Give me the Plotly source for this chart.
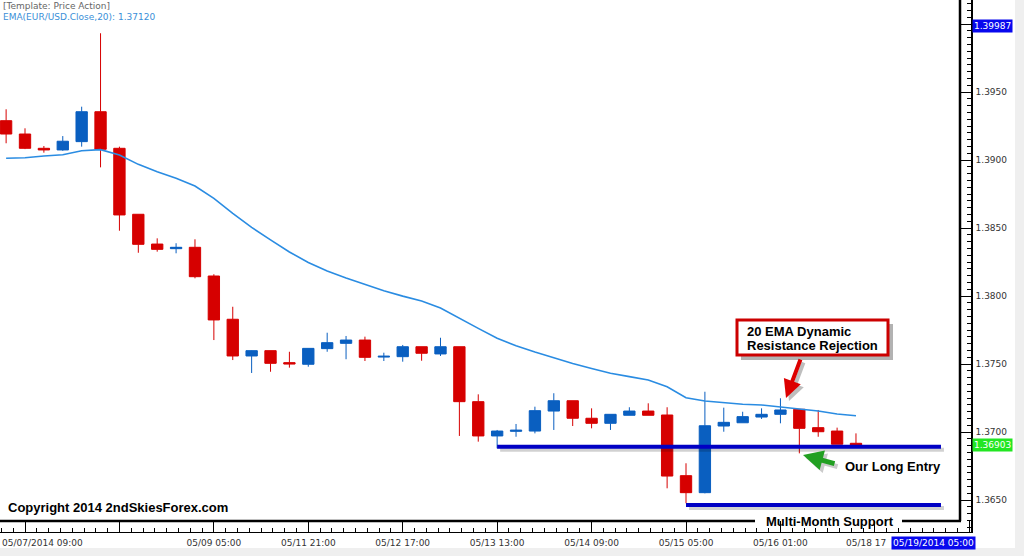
import plotly.graph_objects as go

# ---------------- data ----------------
idx = list(range(46))  # 4-hour candles

opens = [1.39289, 1.39191, 1.39086, 1.39074, 1.39135, 1.39355, 1.39086, 1.38601, 1.38382, 1.38348,
         1.38358, 1.38147, 1.37829, 1.37559, 1.37598, 1.37510, 1.37498, 1.37613, 1.37652, 1.37676,
         1.37551, 1.37554, 1.37627, 1.37574, 1.37627, 1.37223, 1.36971, 1.37005, 1.37007, 1.37154,
         1.37230, 1.37101, 1.37064, 1.37123, 1.37154, 1.37125, 1.36679, 1.36554, 1.37044, 1.37068,
         1.37110, 1.37130, 1.37167, 1.37032, 1.37007, 1.36917]
highs = [1.39373, 1.39233, 1.39103, 1.39176, 1.39392, 1.39932, 1.39098, 1.38601, 1.38424, 1.38388,
         1.38417, 1.38160, 1.37921, 1.37600, 1.37598, 1.37590, 1.37615, 1.37730, 1.37706, 1.37701,
         1.37583, 1.37640, 1.37627, 1.37693, 1.37627, 1.37277, 1.37015, 1.37059, 1.37186, 1.37285,
         1.37230, 1.37174, 1.37130, 1.37182, 1.37211, 1.37182, 1.36770, 1.37296, 1.37179, 1.37149,
         1.37174, 1.37248, 1.37167, 1.37162, 1.37032, 1.36990]
lows = [1.39123, 1.39080, 1.39054, 1.39068, 1.39098, 1.38946, 1.38480, 1.38318, 1.38326, 1.38314,
        1.38130, 1.37676, 1.37529, 1.37434, 1.37443, 1.37473, 1.37480, 1.37590, 1.37535, 1.37522,
        1.37522, 1.37517, 1.37524, 1.37559, 1.36971, 1.36929, 1.36880, 1.36965, 1.36990, 1.37015,
        1.37044, 1.37027, 1.37015, 1.37123, 1.37123, 1.36586, 1.36476, 1.36549, 1.37002, 1.37068,
        1.37096, 1.37064, 1.36843, 1.36965, 1.36910, 1.36903]
closes = [1.39191, 1.39086, 1.39074, 1.39138, 1.39355, 1.39079, 1.38596, 1.38380, 1.38343, 1.38358,
          1.38142, 1.37824, 1.37559, 1.37598, 1.37505, 1.37500, 1.37615, 1.37657, 1.37676, 1.37549,
          1.37557, 1.37627, 1.37579, 1.37627, 1.37223, 1.36971, 1.37007, 1.37013, 1.37157, 1.37230,
          1.37101, 1.37064, 1.37130, 1.37154, 1.37123, 1.36676, 1.36554, 1.37046, 1.37071, 1.37113,
          1.37130, 1.37162, 1.37027, 1.37002, 1.36910, 1.36903]
ema20 = [1.39013, 1.39017, 1.39029, 1.39039, 1.39068, 1.39076, 1.39037, 1.38968, 1.38914, 1.38865,
         1.38809, 1.38718, 1.38608, 1.38504, 1.38413, 1.38324, 1.38246, 1.38184, 1.38132, 1.38084,
         1.38039, 1.37999, 1.37963, 1.37912, 1.37840, 1.37762, 1.37689, 1.37634, 1.37588, 1.37544,
         1.37504, 1.37467, 1.37432, 1.37407, 1.37382, 1.37333, 1.37252, 1.37228, 1.37215, 1.37204,
         1.37199, 1.37186, 1.37169, 1.37154, 1.37132, 1.37120]

x_tick_idx = [1, 6, 11, 16, 21, 26, 31, 36, 41, 46, 51]
x_tick_text = ["", "", "05/09 05:00", "05/11 21:00", "05/12 17:00", "05/13 13:00",
               "05/14 09:00", "05/15 05:00", "05/16 01:00", "", ""]
first_date_label = "05/07/2014 09:00"
partial_date_label = "05/18 17"          # visible part, rest hidden by the current-date box
current_date_label = "05/19/2014 05:00"
y_tick_vals = [1.365, 1.370, 1.375, 1.380, 1.385, 1.390, 1.395, 1.400]
y_tick_text = ["1.3650", "1.3700", "1.3750", "1.3800", "1.3850", "1.3900", "1.3950", ""]
range_high_label = 1.39987

support_entry = 1.36892       # "Our Long Entry" level
support_entry_start = 26
support_multi = 1.36463       # multi-month support
support_multi_start = 36
support_end = 49.5

# ---------------- styling ----------------
RED = "#d60000"
BLUE = "#0a5fc0"
EMA_BLUE = "#2a8ce2"
LINE_BLUE = "#0000c4"
X_RANGE = [-0.3237, 51.09]
Y_RANGE = [1.362647, 1.401765]
PW, PH = 971.0, 532.0          # plot area in px
PPP = (Y_RANGE[1] - Y_RANGE[0]) / PH   # price per pixel
CPP = (X_RANGE[1] - X_RANGE[0]) / PW   # candles per pixel
AX_FONT = dict(family="DejaVu Sans", size=9, color="#333333")


def pxx(px):
    return px / PW


def pxy(py):
    return 1 - py / PH


fig = go.Figure()

fig.add_trace(go.Candlestick(
    x=idx, open=opens, high=highs, low=lows, close=closes,
    increasing=dict(line=dict(color=BLUE, width=1), fillcolor=BLUE),
    decreasing=dict(line=dict(color=RED, width=1), fillcolor=RED),
    whiskerwidth=0, showlegend=False, hoverinfo="skip",
))
fig.add_trace(go.Scatter(
    x=idx, y=ema20, mode="lines", line=dict(color=EMA_BLUE, width=1.6),
    showlegend=False, hoverinfo="skip",
))

shapes = []
# light grey window borders
shapes.append(dict(type="rect", xref="paper", yref="paper", x0=pxx(1015), x1=pxx(1030),
                   y0=pxy(560), y1=pxy(-5), fillcolor="#efefef", line=dict(width=0), layer="below"))
shapes.append(dict(type="rect", xref="paper", yref="paper", x0=pxx(-5), x1=pxx(1030),
                   y0=pxy(560), y1=pxy(548), fillcolor="#efefef", line=dict(width=0), layer="below"))
# chart frame (right + bottom), bottom interrupted by the label
shapes.append(dict(type="line", xref="paper", yref="paper", x0=pxx(960), x1=pxx(960),
                   y0=pxy(0), y1=pxy(521), line=dict(color="black", width=2.5)))
shapes.append(dict(type="line", xref="paper", yref="paper", x0=pxx(0), x1=pxx(755),
                   y0=pxy(521), y1=pxy(521), line=dict(color="black", width=2.5)))
shapes.append(dict(type="line", xref="paper", yref="paper", x0=pxx(902), x1=pxx(961),
                   y0=pxy(521), y1=pxy(521), line=dict(color="black", width=2.5)))
# support lines with soft shadows
for lvl, start in [(support_entry, support_entry_start), (support_multi, support_multi_start)]:
    shapes.append(dict(type="line", xref="x", yref="y", x0=start + 3 * CPP, x1=support_end + 3 * CPP,
                       y0=lvl - 3 * PPP, y1=lvl - 3 * PPP,
                       line=dict(color="rgba(0,0,0,0.18)", width=4)))
    shapes.append(dict(type="line", xref="x", yref="y", x0=start, x1=support_end,
                       y0=lvl, y1=lvl, line=dict(color=LINE_BLUE, width=4)))
# callout box
shapes.append(dict(type="rect", xref="paper", yref="paper", x0=pxx(741), x1=pxx(893),
                   y0=pxy(360), y1=pxy(324), fillcolor="rgba(0,0,0,0.3)", line=dict(width=0)))
shapes.append(dict(type="rect", xref="paper", yref="paper", x0=pxx(737), x1=pxx(888),
                   y0=pxy(355), y1=pxy(320), fillcolor="white", line=dict(color="#cc0000", width=3)))

ann = []
ann.append(dict(xref="paper", yref="paper", x=pxx(1), y=pxy(6), xanchor="left", yanchor="middle",
                text="[Template: Price Action]", showarrow=False,
                font=dict(family="DejaVu Sans", size=9, color="#666666")))
ann.append(dict(xref="paper", yref="paper", x=pxx(1), y=pxy(17), xanchor="left", yanchor="middle",
                text="EMA(EUR/USD.Close,20): %.5f" % ema20[-1], showarrow=False,
                font=dict(family="DejaVu Sans", size=9, color="#3a8fd8")))
BOLD = dict(family="Liberation Sans", size=13, color="black")
ann.append(dict(xref="paper", yref="paper", x=pxx(6), y=pxy(507), xanchor="left", yanchor="middle",
                text="<b>Copyright 2014 2ndSkiesForex.com</b>", showarrow=False, font=BOLD))
ann.append(dict(xref="paper", yref="paper", x=pxx(843), y=pxy(466), xanchor="left", yanchor="middle",
                text="<b>Our Long Entry</b>", showarrow=False, font=BOLD))
ann.append(dict(xref="paper", yref="paper", x=pxx(764), y=pxy(521), xanchor="left", yanchor="middle",
                text="<b>Multi-Month Support</b>", showarrow=False, font=BOLD))
ann.append(dict(xref="paper", yref="paper", x=pxx(745), y=pxy(331), xanchor="left", yanchor="middle",
                text="<b>20 EMA Dynamic</b>", showarrow=False, font=BOLD))
ann.append(dict(xref="paper", yref="paper", x=pxx(745), y=pxy(345), xanchor="left", yanchor="middle",
                text="<b>Resistance Rejection</b>", showarrow=False, font=BOLD))
# arrows (shadow + arrow)
ann.append(dict(xref="paper", yref="paper", x=pxx(789), y=pxy(401), ax=15, ay=-40, text="",
                showarrow=True, arrowhead=2, arrowsize=0.9, arrowwidth=4,
                arrowcolor="rgba(0,0,0,0.25)", standoff=0))
ann.append(dict(xref="paper", yref="paper", x=pxx(786), y=pxy(398), ax=15, ay=-40, text="",
                showarrow=True, arrowhead=2, arrowsize=0.9, arrowwidth=4,
                arrowcolor="#dd0000", standoff=0))
ann.append(dict(xref="paper", yref="paper", x=pxx(806), y=pxy(458), ax=33, ay=9, text="",
                showarrow=True, arrowhead=2, arrowsize=0.8, arrowwidth=5,
                arrowcolor="rgba(0,0,0,0.2)", standoff=0))
ann.append(dict(xref="paper", yref="paper", x=pxx(803), y=pxy(455), ax=33, ay=9, text="",
                showarrow=True, arrowhead=2, arrowsize=0.8, arrowwidth=5,
                arrowcolor="#22a022", standoff=0))
# axis-side price / date boxes
ann.append(dict(xref="paper", yref="y", x=pxx(972), y=range_high_label, xanchor="left",
                yanchor="middle", text="%.5f" % range_high_label, showarrow=False,
                bgcolor="#0808ee", borderpad=1,
                font=dict(family="DejaVu Sans", size=9, color="white")))
ann.append(dict(xref="paper", yref="y", x=pxx(972), y=closes[-1], xanchor="left",
                yanchor="middle", text="%.5f" % closes[-1], showarrow=False,
                bgcolor="#22e622", borderpad=1,
                font=dict(family="DejaVu Sans", size=9, color="white")))
ann.append(dict(xref="paper", yref="paper", x=pxx(0), y=pxy(543), xanchor="left",
                yanchor="middle", text=first_date_label, showarrow=False, font=AX_FONT))
ann.append(dict(xref="paper", yref="paper", x=pxx(888), y=pxy(543), xanchor="right",
                yanchor="middle", text=partial_date_label, showarrow=False, font=AX_FONT))
ann.append(dict(xref="paper", yref="paper", x=pxx(976), y=pxy(543), xanchor="right",
                yanchor="middle", text=current_date_label, showarrow=False,
                bgcolor="#0808ee", borderpad=1,
                font=dict(family="DejaVu Sans", size=9, color="white")))

fig.update_layout(
    width=1024, height=556,
    margin=dict(l=0, r=53, t=0, b=24, pad=0),
    paper_bgcolor="white", plot_bgcolor="white",
    showlegend=False,
    boxgap=0.4, boxgroupgap=0,
    shapes=shapes, annotations=ann,
    xaxis=dict(
        range=X_RANGE, fixedrange=True, rangeslider=dict(visible=False),
        showgrid=False, zeroline=False,
        showline=True, linecolor="black", linewidth=1,
        ticks="inside", ticklen=11, tickwidth=1, tickcolor="black",
        tickmode="array", tickvals=x_tick_idx, ticktext=x_tick_text,
        tickfont=AX_FONT, ticklabelstandoff=2,
        minor=dict(ticks="inside", ticklen=4, tickwidth=1, tickcolor="black",
                   tickmode="linear", tick0=1, dtick=0.625, showgrid=False),
    ),
    yaxis=dict(
        range=Y_RANGE, fixedrange=True, side="right",
        showgrid=False, zeroline=False,
        showline=True, linecolor="black", linewidth=1.5,
        ticks="inside", ticklen=11, tickwidth=1, tickcolor="black",
        tickmode="array", tickvals=y_tick_vals, ticktext=y_tick_text,
        tickfont=AX_FONT, ticklabelstandoff=1,
        minor=dict(ticks="inside", ticklen=4, tickwidth=1, tickcolor="black",
                   tickmode="linear", tick0=1.365, dtick=0.0005, showgrid=False),
    ),
)

fig.write_html("out.html")
